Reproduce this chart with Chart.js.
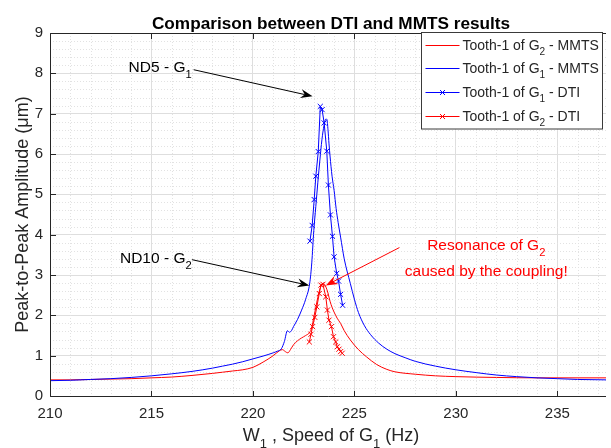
<!DOCTYPE html>
<html>
<head>
<meta charset="utf-8">
<script src="https://cdn.jsdelivr.net/npm/chart.js@4.4.0/dist/chart.umd.min.js"></script>
<style>
  html, body { margin: 0; padding: 0; background: #fff; }
</style>
</head>
<body>
<canvas id="myChart" width="611" height="448"></canvas>
<script>
'use strict';

// MMTS sweep, tooth-1 of G1 (Hz / um)
const mmtsG1Speed = [210, 211, 212, 213, 214, 215, 216, 217, 218, 218.5, 219, 219.5, 220, 220.5, 221, 221.2, 221.4, 221.55, 221.7, 221.8, 221.9, 222.0,
  222.2, 222.4, 222.6, 222.8, 222.9, 223.0, 223.1, 223.2, 223.3, 223.4, 223.5, 223.6, 223.65, 223.7, 223.75, 223.8, 223.9, 224.0, 224.1, 224.2,
  224.32, 224.5, 224.8, 225.0, 225.2, 225.5, 225.8, 226.2, 226.6, 227.0, 227.5, 228, 229, 230, 231, 232, 233, 234, 235, 236, 237.4];
const mmtsG1Amp = [0.38, 0.39, 0.41, 0.43, 0.46, 0.50, 0.55, 0.61, 0.69, 0.74, 0.79, 0.85, 0.92, 0.99, 1.07, 1.11, 1.17, 1.35, 1.62, 1.58, 1.62, 1.72,
  1.90, 2.13, 2.40, 2.80, 3.30, 4.10, 4.70, 5.30, 5.85, 6.35, 6.70, 6.87, 6.85, 6.60, 6.25, 5.95, 5.45, 5.10, 4.65, 4.30,
  3.94, 3.40, 2.79, 2.40, 2.07, 1.74, 1.52, 1.31, 1.16, 1.05, 0.95, 0.86, 0.74, 0.65, 0.58, 0.52, 0.48, 0.45, 0.43, 0.41, 0.40];

// MMTS sweep, tooth-1 of G2
const mmtsG2Speed = [210, 211, 212, 213, 214, 215, 216, 217, 218, 218.5, 219, 219.5, 220, 220.5, 221, 221.3, 221.45, 221.6, 221.72, 221.85, 222.0,
  222.2, 222.4, 222.6, 222.8, 222.9, 223.0, 223.1, 223.2, 223.3, 223.4, 223.5, 223.6, 223.7, 223.8, 223.9, 224.0, 224.15, 224.32, 224.5,
  224.8, 225.2, 225.6, 226.1, 226.6, 227, 228, 229, 230, 232, 234, 237.4];
const mmtsG2Amp = [0.40, 0.40, 0.41, 0.42, 0.43, 0.45, 0.47, 0.51, 0.56, 0.59, 0.62, 0.65, 0.71, 0.84, 1.00, 1.12, 1.15, 1.10, 1.07, 1.15, 1.27,
  1.37, 1.44, 1.50, 1.58, 1.70, 1.95, 2.20, 2.45, 2.65, 2.76, 2.78, 2.70, 2.55, 2.35, 2.20, 2.08, 1.93, 1.80, 1.62,
  1.39, 1.15, 0.97, 0.78, 0.66, 0.60, 0.54, 0.50, 0.48, 0.46, 0.45, 0.45];

// DTI runs
const dtiG1Speed = [222.81, 222.92, 223.02, 223.10, 223.22, 223.32, 223.41, 223.51, 223.64, 223.72, 223.82, 223.92, 224.00, 224.13, 224.22, 224.32, 224.42];
const dtiG1Amp = [3.84, 4.23, 4.87, 5.45, 6.06, 7.18, 7.10, 6.77, 6.07, 5.23, 4.49, 3.96, 3.45, 3.04, 2.85, 2.52, 2.25];
const dtiG2Speed = [222.78, 222.86, 222.94, 223.05, 223.15, 223.27, 223.35, 223.45, 223.59, 223.67, 223.75, 223.87, 223.97, 224.08, 224.16, 224.24, 224.32, 224.40];
const dtiG2Amp = [1.34, 1.53, 1.72, 1.95, 2.21, 2.54, 2.75, 2.77, 2.46, 2.13, 1.88, 1.72, 1.47, 1.34, 1.22, 1.16, 1.10, 1.06];

const xTicks = [210, 215, 220, 225, 230, 235];
const yTicks = [0, 1, 2, 3, 4, 5, 6, 7, 8, 9];

// text arrows ("_n" = subscript n), positions in axis units
const notes = [
  { lines: ['ND5 - G_1'], color: '#000', align: 'right', textAt: [216.98, 8.03], from: [217.08, 8.09], to: [222.94, 7.43] },
  { lines: ['ND10 - G_2'], color: '#000', align: 'right', textAt: [216.98, 3.29], from: [217.0, 3.38], to: [222.78, 2.74] },
  { lines: ['Resonance of G_2', 'caused by the coupling!'], color: '#f00', align: 'center', textAt: [231.5, 3.61], from: [227.22, 3.68], to: [223.59, 2.74] }
];

const FONT = "'Liberation Sans', Arial, sans-serif";
const INK = '#262626';
const BLUE = '#0000ff';
const RED = '#ff0000';

function pairs(xs, ys) {
  return xs.map((v, i) => ({ x: v, y: ys[i] }));
}

// split "G_2" style strings into normal / subscript pieces
function pieces(str) {
  const out = [];
  let buf = '';
  for (let i = 0; i < str.length; i++) {
    if (str[i] === '_' && i + 1 < str.length) {
      if (buf) out.push({ t: buf, sub: false });
      out.push({ t: str[i + 1], sub: true });
      buf = '';
      i++;
    } else {
      buf += str[i];
    }
  }
  if (buf) out.push({ t: buf, sub: false });
  return out;
}

function richWidth(ctx, str, size, weight) {
  let w = 0;
  for (const p of pieces(str)) {
    ctx.font = `${weight || ''} ${p.sub ? size * 0.72 : size}px ${FONT}`;
    w += ctx.measureText(p.t).width;
  }
  return w;
}

function drawRich(ctx, str, x, y, size, align, weight) {
  const w = richWidth(ctx, str, size, weight);
  let cx = align === 'right' ? x - w : align === 'center' ? x - w / 2 : x;
  ctx.textAlign = 'left';
  ctx.textBaseline = 'alphabetic';
  for (const p of pieces(str)) {
    const s = p.sub ? size * 0.72 : size;
    ctx.font = `${weight || ''} ${s}px ${FONT}`;
    ctx.fillText(p.t, cx, p.sub ? y + size * 0.38 : y);
    cx += ctx.measureText(p.t).width;
  }
}

function arrow(ctx, x1, y1, x2, y2, color) {
  const ang = Math.atan2(y2 - y1, x2 - x1);
  const len = 12, half = 4.5, back = 8;
  ctx.strokeStyle = color;
  ctx.fillStyle = color;
  ctx.lineWidth = 1;
  ctx.beginPath();
  ctx.moveTo(x1, y1);
  ctx.lineTo(x2 - Math.cos(ang) * back, y2 - Math.sin(ang) * back);
  ctx.stroke();
  ctx.save();
  ctx.translate(x2, y2);
  ctx.rotate(ang);
  ctx.beginPath();
  ctx.moveTo(0, 0);
  ctx.lineTo(-len, -half);
  ctx.lineTo(-back, 0);
  ctx.lineTo(-len, half);
  ctx.closePath();
  ctx.fill();
  ctx.restore();
}

function crossMark(ctx, x, y, r, color) {
  ctx.strokeStyle = color;
  ctx.lineWidth = 1;
  ctx.beginPath();
  ctx.moveTo(x - r, y - r); ctx.lineTo(x + r, y + r);
  ctx.moveTo(x - r, y + r); ctx.lineTo(x + r, y - r);
  ctx.stroke();
}

// minor grid, axes box, inward ticks, annotations, legend and titles
const matlabLook = {
  id: 'matlabLook',
  beforeDatasetsDraw(chart) {
    const { ctx, chartArea: a, scales: { x, y } } = chart;
    ctx.save();
    ctx.strokeStyle = '#e2e2e2';
    ctx.lineWidth = 1;
    ctx.setLineDash([1, 2]);
    ctx.beginPath();
    for (let v = Math.ceil(x.min); v <= x.max; v++) {
      if (v % 5 === 0) continue;
      const px = Math.round(x.getPixelForValue(v)) + 0.5;
      ctx.moveTo(px, a.top); ctx.lineTo(px, a.bottom);
    }
    for (let k = 1; k < 45; k++) {
      if (k % 5 === 0) continue;
      const py = Math.round(y.getPixelForValue(k * 0.2)) + 0.5;
      ctx.moveTo(a.left, py); ctx.lineTo(a.right, py);
    }
    ctx.stroke();
    ctx.restore();
  },
  afterDatasetsDraw(chart) {
    const { ctx, chartArea: a, scales: { x, y } } = chart;
    ctx.save();

    // box + inward ticks
    ctx.strokeStyle = INK;
    ctx.lineWidth = 1;
    ctx.beginPath();
    const L = Math.round(a.left) + 0.5, T = Math.round(a.top) + 0.5, B = Math.round(a.bottom) + 0.5;
    ctx.moveTo(a.right, T); ctx.lineTo(L, T); ctx.lineTo(L, B); ctx.lineTo(a.right, B);
    for (const v of xTicks) {
      const px = Math.round(x.getPixelForValue(v)) + 0.5;
      ctx.moveTo(px, B); ctx.lineTo(px, B - 5.5);
      ctx.moveTo(px, T); ctx.lineTo(px, T + 5.5);
    }
    for (const v of yTicks) {
      const py = Math.round(y.getPixelForValue(v)) + 0.5;
      ctx.moveTo(L, py); ctx.lineTo(L + 5.5, py);
    }
    ctx.stroke();

    // text arrows
    for (const n of notes) {
      arrow(ctx, x.getPixelForValue(n.from[0]), y.getPixelForValue(n.from[1]),
        x.getPixelForValue(n.to[0]), y.getPixelForValue(n.to[1]), n.color);
      ctx.fillStyle = n.color;
      n.lines.forEach((s, i) => {
        drawRich(ctx, s, x.getPixelForValue(n.textAt[0]), y.getPixelForValue(n.textAt[1]) + i * 25.7, 15.5, n.align);
      });
    }

    // legend
    const bx = 421.5, by = 32.5, bw = 181, bh = 96.5;
    ctx.fillStyle = '#fff';
    ctx.fillRect(bx, by, bw, bh);
    ctx.strokeStyle = '#3a3a3a';
    ctx.strokeRect(bx, by, bw, bh);
    chart.data.datasets.forEach((ds, i) => {
      const ry = Math.round(by + 12 + i * 23.9);
      ctx.strokeStyle = ds.borderColor;
      ctx.beginPath();
      ctx.moveTo(bx + 4, ry + 0.5); ctx.lineTo(bx + 38, ry + 0.5);
      ctx.stroke();
      if (ds.pointRadius > 0) crossMark(ctx, bx + 21, ry + 0.5, 2.5, ds.borderColor);
      ctx.fillStyle = INK;
      drawRich(ctx, ds.label, bx + 41, ry + 5, 14, 'left');
    });

    ctx.restore();
  },
  afterDraw(chart) {
    const { ctx, chartArea: a } = chart;
    ctx.save();
    ctx.fillStyle = '#000';
    drawRich(ctx, 'Comparison between DTI and MMTS results', (a.left + a.right) / 2 + 3, 29, 17.2, 'center', 'bold');
    ctx.fillStyle = INK;
    drawRich(ctx, 'W_1 , Speed of G_1 (Hz)', (a.left + a.right) / 2 + 3, 441, 18, 'center');
    ctx.translate(28, (a.top + a.bottom) / 2);
    ctx.rotate(-Math.PI / 2);
    drawRich(ctx, 'Peak-to-Peak Amplitude (\u03bcm)', 0, 0, 18, 'center');
    ctx.restore();
  }
};

const lineSet = (label, xs, ys, color, order, marks) => ({
  label: label,
  data: pairs(xs, ys),
  showLine: true,
  borderColor: color,
  backgroundColor: color,
  borderWidth: 1,
  pointStyle: 'crossRot',
  pointRadius: marks ? 3.6 : 0,
  pointBorderWidth: 1,
  cubicInterpolationMode: marks ? 'default' : 'monotone',
  order: order
});

const ctx = document.getElementById('myChart').getContext('2d');
const chart = new Chart(ctx, {
  type: 'scatter',
  data: {
    datasets: [
      lineSet('Tooth-1 of G_2 - MMTS', mmtsG2Speed, mmtsG2Amp, RED, 4, false),
      lineSet('Tooth-1 of G_1 - MMTS', mmtsG1Speed, mmtsG1Amp, BLUE, 3, false),
      lineSet('Tooth-1 of G_1 - DTI', dtiG1Speed, dtiG1Amp, BLUE, 2, true),
      lineSet('Tooth-1 of G_2 - DTI', dtiG2Speed, dtiG2Amp, RED, 1, true)
    ]
  },
  options: {
    responsive: false,
    animation: false,
    devicePixelRatio: 1,
    layout: { padding: { top: 33, right: 0, left: 0, bottom: 0 } },
    plugins: {
      legend: { display: false },
      tooltip: { enabled: false },
      title: { display: false }
    },
    scales: {
      x: {
        type: 'linear',
        min: 210,
        max: 237.4,
        afterBuildTicks: s => { s.ticks = xTicks.map(v => ({ value: v })); },
        afterFit: s => { s.height = 52; },
        grid: { color: '#dedede', drawTicks: false },
        border: { display: false },
        ticks: { color: INK, font: { family: FONT, size: 15 }, padding: 9, maxRotation: 0, autoSkip: false }
      },
      y: {
        type: 'linear',
        min: 0,
        max: 9,
        afterBuildTicks: s => { s.ticks = yTicks.map(v => ({ value: v })); },
        afterFit: s => { s.width = 50; },
        grid: { color: '#dedede', drawTicks: false },
        border: { display: false },
        ticks: { color: INK, font: { family: FONT, size: 15 }, padding: 7 }
      }
    }
  },
  plugins: [matlabLook]
});
</script>
</body>
</html>
